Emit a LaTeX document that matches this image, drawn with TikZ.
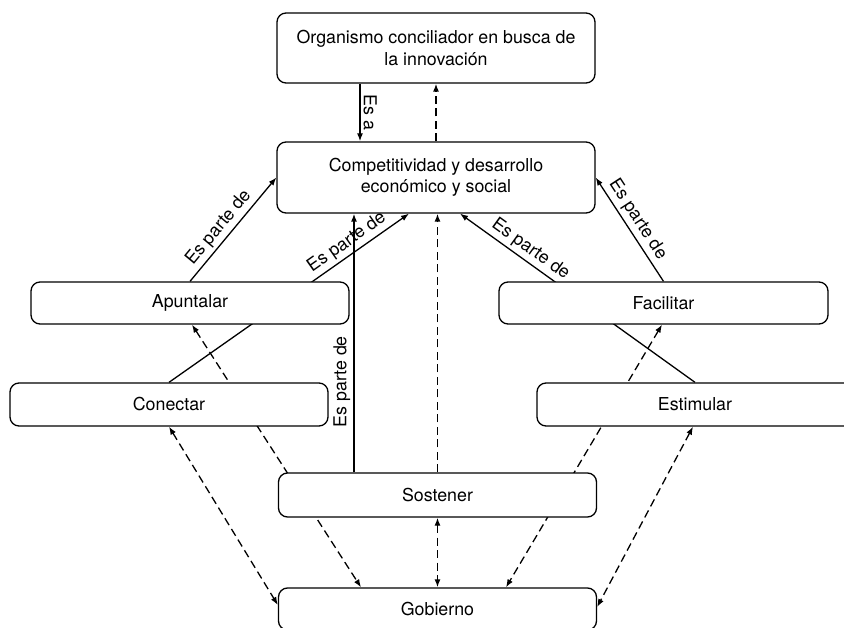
\documentclass[tikz,border=0pt]{standalone}
\usepackage{fontspec}
\setmainfont{TeX Gyre Heros}
\usetikzlibrary{arrows.meta,backgrounds}

\begin{document}
\begin{tikzpicture}[x=1pt, y=-1pt,
  every node/.style = {font=\fontsize{17.8}{21.5}\selectfont},
  box/.style = {shape=rectangle, rounded corners=9pt, draw, fill=white,
    align=center, line width=1.3pt, minimum width=318pt, inner sep=0pt},
  link/.style = {line width=1.3pt, -{Latex[length=8pt,width=6pt]}},
  dlink/.style = {link, dash pattern=on 8pt off 4.5pt},
  twoway/.style = {dlink, {Latex[length=8pt,width=6pt]}-{Latex[length=8pt,width=6pt]}},
  lab/.style = {sloped, above, inner sep=3pt}]
  \useasboundingbox (0,0) rectangle (844,628);
  % boxes
  \node[box, minimum height=70pt] (org) at (436,48) {Organismo conciliador en busca de\\la innovaci\'on};
  \node[box, minimum height=71pt] (comp) at (436,177.5) {Competitividad y desarrollo\\econ\'omico y social};
  \node[box, minimum height=42pt] (apun) at (190,303) {Apuntalar};
  \node[box, minimum height=42pt, minimum width=329pt] (fac) at (663.5,303) {Facilitar};
  \node[box, minimum height=43pt] (con) at (169,404.5) {Conectar};
  \node[box, minimum height=43pt, minimum width=316pt] (est) at (695,404.5) {Estimular};
  \node[box, minimum height=44pt] (sos) at (437.5,495) {Sostener};
  \node[box, minimum height=42pt] (gob) at (437.5,609) {Gobierno};
  % connectors
  \begin{scope}[on background layer]
    \draw[link] ([xshift=-76pt]org.south) -- ([xshift=-76pt]comp.north) node[lab, midway] {Es a};
    \draw[dlink] (comp.north) -- (org.south);
    \draw[link] (apun.north) -- (comp.west) node[lab, pos=0.44] {Es parte de};
    \draw[link] (con.north) -- ([xshift=-27pt]comp.south) node[lab, pos=0.77] {Es parte de};
    \draw[link] ([xshift=-83.5pt]sos.north) -- ([xshift=-83.5pt]sos.north |- comp.south) node[lab, pos=0.35] {Es parte de};
    \draw[dlink] (sos.north) -- (sos.north |- comp.south);
    \draw[link] (est.north) -- ([xshift=24pt]comp.south) node[lab, pos=0.73] {Es parte de};
    \draw[link] (fac.north) -- (comp.east) node[lab, pos=0.53] {Es parte de};
    \draw[twoway] ([xshift=2pt]apun.south) -- ([xshift=-76.5pt]gob.north);
    \draw[twoway] (con.south) -- ([yshift=4pt]gob.west);
    \draw[twoway] (sos.south) -- (gob.north);
    \draw[twoway] ([xshift=-1.5pt]fac.south) -- ([xshift=68.5pt]gob.north);
    \draw[twoway] ([xshift=-2pt]est.south) -- ([yshift=2pt]gob.east);
  \end{scope}
\end{tikzpicture}
\end{document}
